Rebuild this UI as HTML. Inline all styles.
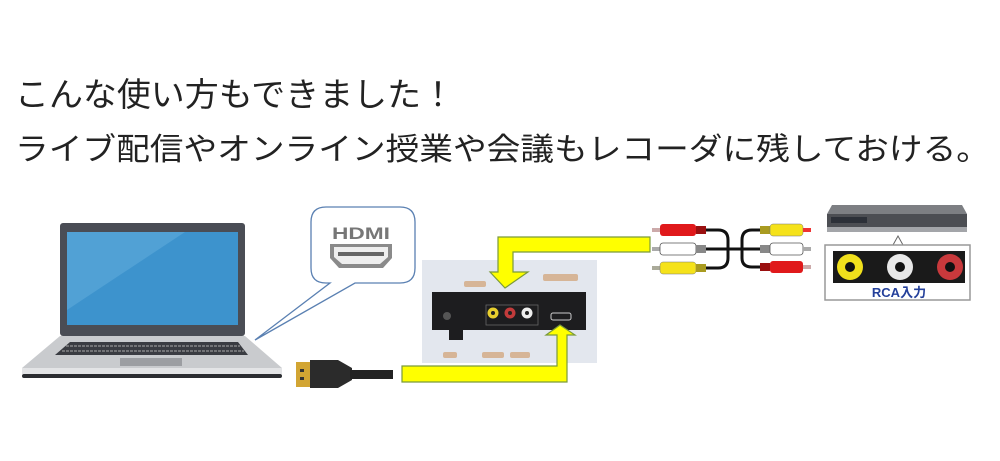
<!DOCTYPE html>
<html><head><meta charset="utf-8"><style>
body{margin:0;background:#fff;}
svg{display:block}
</style></head><body>
<svg width="1000" height="461" viewBox="0 0 1000 461" xmlns="http://www.w3.org/2000/svg">
<rect width="1000" height="461" fill="#fff"/>
<g font-family="'Liberation Sans','Noto Sans CJK JP',sans-serif" fill="#222">
<text x="15" y="106" font-size="33" textLength="440" lengthAdjust="spacingAndGlyphs">こんな使い方もできました！</text>
<text x="15" y="160" font-size="31" textLength="975" lengthAdjust="spacingAndGlyphs">ライブ配信やオンライン授業や会議もレコーダに残しておける。</text>
</g>
<!-- laptop -->
<rect x="60" y="223" width="185" height="113" rx="3" fill="#4a4d55"/>
<rect x="67" y="232" width="171" height="93" fill="#3d93cd"/>
<polygon points="67,232 185,232 67,310" fill="#5aa7d9" opacity="0.7"/>
<polygon points="60,336 245,336 282,368 22,368" fill="#c9cbce"/>
<polygon points="70,342 238,342 248,355 55,355" fill="#3a3c42"/>
<line x1="66" y1="346" x2="240" y2="346" stroke="#aaa" stroke-width="1" stroke-dasharray="3,1"/>
<line x1="62" y1="351" x2="244" y2="351" stroke="#aaa" stroke-width="1" stroke-dasharray="3,1"/>
<rect x="120" y="358" width="62" height="8" fill="#9c9ea2"/>
<rect x="22" y="368" width="260" height="6" fill="#e3e4e6"/>
<rect x="22" y="374" width="260" height="4" rx="2" fill="#2b2d31"/>
<!-- bubble -->
<path d="M326,207 H400 Q415,207 415,222 V268 Q415,283 400,283 H355 L255,340 L330,283 H326 Q311,283 311,268 V222 Q311,207 326,207 Z" fill="#fff" stroke="#5a80b2" stroke-width="1.3"/>
<text x="361" y="239" font-family="'Liberation Sans',sans-serif" font-weight="bold" font-size="17" fill="#777" text-anchor="middle" textLength="58" lengthAdjust="spacingAndGlyphs">HDMI</text>
<polygon points="330,244 392,244 392,258 383,268 339,268 330,258" fill="#8a8a8a"/>
<polygon points="334,247 388,247 388,257 380,264 342,264 334,257" fill="#eee"/>
<rect x="338" y="252" width="46" height="4" fill="#666"/>
<!-- hdmi cable -->
<rect x="296" y="362" width="16" height="25" fill="#d2a533"/>
<rect x="300" y="369" width="4" height="3" fill="#333"/><rect x="300" y="377" width="4" height="3" fill="#333"/>
<polygon points="310,360 338,360 352,368 352,380 338,388 310,388" fill="#2b2b2b"/>
<rect x="350" y="370" width="43" height="9" fill="#222"/>
<!-- converter photo -->
<rect x="422" y="260" width="175" height="103" fill="#e3e7ee"/>
<rect x="432" y="292" width="154" height="38" fill="#1d1d1f"/>
<rect x="449" y="330" width="14" height="10" fill="#1d1d1f"/>
<circle cx="447" cy="316" r="4" fill="#555"/>
<rect x="486" y="305" width="52" height="20" fill="none" stroke="#666" stroke-width="0.8"/>
<circle cx="493" cy="313" r="5.5" fill="#e8cf2e"/><circle cx="493" cy="313" r="2" fill="#222"/>
<circle cx="510" cy="313" r="5.5" fill="#c23b3b"/><circle cx="510" cy="313" r="2" fill="#222"/>
<circle cx="527" cy="313" r="5.5" fill="#eee"/><circle cx="527" cy="313" r="2" fill="#222"/>
<rect x="551" y="313" width="20" height="7" rx="2" fill="none" stroke="#ccc"/>
<g fill="#d6b597"><rect x="464" y="281" width="22" height="6" rx="2"/><rect x="543" y="274" width="35" height="7" rx="2"/><rect x="443" y="352" width="14" height="6" rx="2"/><rect x="482" y="352" width="22" height="6" rx="2"/><rect x="510" y="352" width="20" height="6" rx="2"/></g>
<!-- arrows -->
<path d="M650,237 H498 V272 H490 L505,288 L528,272 H513 V252 H650 Z" fill="#ffff00" stroke="#7a9a3a" stroke-width="1.2"/>
<path d="M402,366 H557 V335 H546 L560,325 L575,335 H567 V382 H402 Z" fill="#ffff00" stroke="#7a9a3a" stroke-width="1.2"/>
<!-- RCA cables -->
<g fill="none" stroke="#111" stroke-width="3">
<path d="M705,230 H718 Q728,230 728,240 V258 Q728,268 718,268 H705"/>
<path d="M705,249 H760"/>
<path d="M762,230 H752 Q742,230 742,240 V258 Q742,267 752,267 H762"/>
</g>
<g>
<rect x="652" y="228" width="10" height="4" fill="#caa"/><rect x="660" y="224" width="36" height="12" rx="3" fill="#e0191b"/><rect x="696" y="226" width="10" height="8" fill="#9a1010"/>
<rect x="652" y="247" width="10" height="4" fill="#aaa"/><rect x="660" y="243" width="36" height="12" rx="3" fill="#fff" stroke="#555" stroke-width="0.8"/><rect x="696" y="245" width="10" height="8" fill="#888"/>
<rect x="652" y="266" width="10" height="4" fill="#aa9"/><rect x="660" y="262" width="36" height="12" rx="3" fill="#f5e21a" stroke="#777" stroke-width="0.5"/><rect x="696" y="264" width="10" height="8" fill="#a99b20"/>
<rect x="760" y="226" width="10" height="8" fill="#a99b20"/><rect x="770" y="224" width="33" height="12" rx="3" fill="#f5e21a" stroke="#777" stroke-width="0.5"/><rect x="803" y="228" width="8" height="4" fill="#e33"/>
<rect x="760" y="245" width="10" height="8" fill="#888"/><rect x="770" y="243" width="33" height="12" rx="3" fill="#fff" stroke="#555" stroke-width="0.8"/><rect x="803" y="247" width="8" height="4" fill="#aaa"/>
<rect x="760" y="263" width="10" height="8" fill="#9a1010"/><rect x="770" y="261" width="33" height="12" rx="3" fill="#e0191b"/><rect x="803" y="265" width="8" height="4" fill="#caa"/>
</g>
<!-- recorder -->
<polygon points="832,205 962,205 967,214 827,214" fill="#7d7f83"/>
<rect x="827" y="214" width="140" height="13" fill="#4c4e53"/>
<rect x="831" y="217" width="36" height="6" fill="#2c3038"/>
<rect x="827" y="227" width="140" height="5" fill="#a3a5a9"/>
<polygon points="893,245 898,236 903,245" fill="#fff" stroke="#666"/>
<rect x="825" y="245" width="145" height="55" fill="#fff" stroke="#999" stroke-width="1.5"/>
<rect x="833" y="251" width="132" height="32" fill="#1a1a1a"/>
<circle cx="850" cy="267" r="13" fill="#f1e01c"/><circle cx="850" cy="267" r="5" fill="#111"/>
<circle cx="900" cy="267" r="13" fill="#e8e8e8"/><circle cx="900" cy="267" r="5" fill="#111"/>
<circle cx="950" cy="267" r="13" fill="#c8393c"/><circle cx="950" cy="267" r="5" fill="#111"/>
<text x="899" y="297" font-family="'Liberation Sans','Noto Sans CJK JP',sans-serif" font-weight="bold" font-size="13" fill="#24409a" text-anchor="middle">RCA入力</text>
</svg>
</body></html>
